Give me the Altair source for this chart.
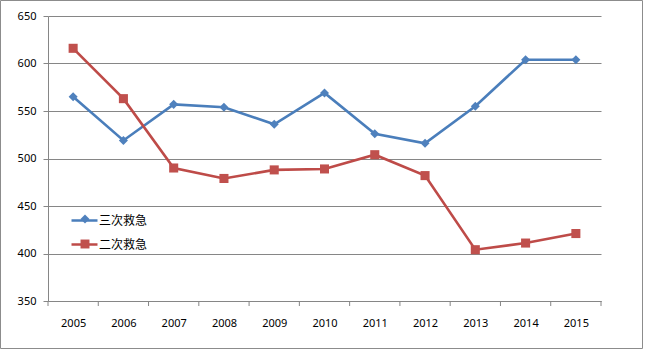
import altair as alt
import pandas as pd

years = [2005, 2006, 2007, 2008, 2009, 2010, 2011, 2012, 2013, 2014, 2015]
series_names = ["三次救急", "二次救急"]
tertiary = [565, 519, 557, 554, 536, 569, 526, 516, 555, 604, 604]
secondary = [616, 563, 490, 479, 488, 489, 504, 482, 404, 411, 421]
y_ticks = [350, 400, 450, 500, 550, 600, 650]

BLUE = "#4A7EBB"
RED = "#BE4B48"
BLUE_M = "#4F81BD"
RED_M = "#C0504D"
GRID = "#868686"

rows = []
for yr, v in zip(years, tertiary):
    rows.append({"year": yr, "value": v, "series": series_names[0]})
for yr, v in zip(years, secondary):
    rows.append({"year": yr, "value": v, "series": series_names[1]})
df = pd.DataFrame(rows)

bounds = pd.DataFrame({"b": [y - 0.5 for y in years] + [years[-1] + 0.5]})

W, H = 553, 285
xscale = alt.Scale(domain=[years[0] - 0.5, years[-1] + 0.5], nice=False, zero=False)
yscale = alt.Scale(domain=[350, 650], nice=False, zero=False)

x_enc = alt.X("year:Q", scale=xscale, title=None,
              axis=alt.Axis(values=years, format="d", ticks=False, grid=False,
                            domainColor=GRID, labelPadding=16, labelFontSize=11,
                            labelFont="Noto Sans", labelColor="#000"))
y_enc = alt.Y("value:Q", scale=yscale, title=None,
              axis=alt.Axis(values=y_ticks, grid=True, gridColor=GRID, tickColor=GRID,
                            domainColor=GRID, tickSize=5, labelPadding=7,
                            labelFontSize=11, labelFont="Noto Sans", labelColor="#000"))

LX, LY = 22, 190
leg_lines = alt.Legend(orient="none", legendX=LX, legendY=LY, title=None,
                       symbolSize=676, symbolStrokeWidth=2.5, labelFontSize=12,
                       labelFont="Noto Sans CJK SC", labelColor="#000", rowPadding=3,
                       padding=0, labelOffset=0)


def leg_marks():
    return alt.Legend(orient="none", legendX=LX + 9, legendY=LY + 7, title=None,
                      symbolSize=80, symbolStrokeWidth=0, labelFontSize=12,
                      labelExpr="''", rowPadding=13,
                      padding=0, labelOffset=0)


lines = alt.Chart(df).mark_line(strokeWidth=2.6).encode(
    x=x_enc, y=y_enc,
    color=alt.Color("series:N", scale=alt.Scale(domain=series_names, range=[BLUE, RED]), legend=leg_lines),
    detail="series:N",
)

points = alt.Chart(df).mark_point(filled=True, opacity=1, size=82).encode(
    x=alt.X("year:Q", scale=xscale),
    y=alt.Y("value:Q", scale=yscale),
    fill=alt.Fill("series:N", scale=alt.Scale(range=[BLUE_M, RED_M]), legend=leg_marks()),
    shape=alt.Shape("series:N", scale=alt.Scale(range=["diamond", "square"]), legend=leg_marks()),
)

ticks = alt.Chart(bounds).mark_rule(color=GRID, strokeWidth=1).encode(
    x=alt.X("b:Q", scale=xscale, title=None),
    y=alt.value(H), y2=alt.value(H + 5),
)

border = alt.Chart(alt.Data(values=[{"a": 1}])).mark_rect(
    fill=None, stroke="#8C8C8C", strokeWidth=1, clip=False
).encode(
    x=alt.value(-47.5), x2=alt.value(594.5), y=alt.value(-15.5), y2=alt.value(332.5)
)

chart = alt.layer(border, lines, points, ticks).properties(
    width=W, height=H,
    autosize=alt.AutoSizeParams(type="none"),
    padding={"left": 48, "top": 16, "right": 44, "bottom": 50},
    background="white",
).configure_view(stroke=None)

chart.save("out.html", embed_options={"renderer": "svg", "actions": False})
